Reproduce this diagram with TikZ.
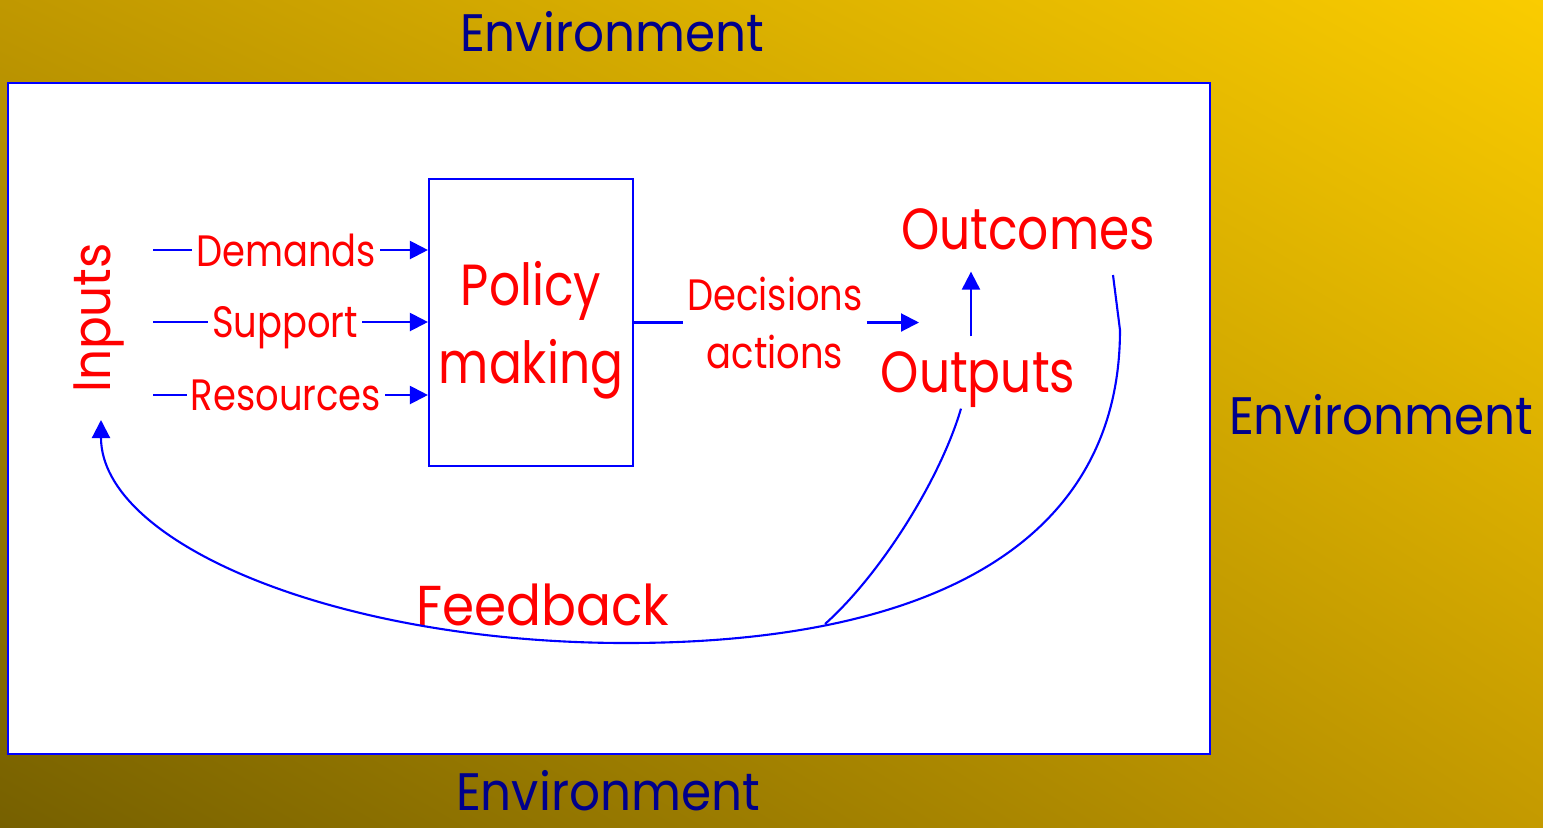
\documentclass[tikz,border=0pt]{standalone}
\usepackage{fontspec}
\setmainfont[FakeStretch=0.92]{Poppins}
\newfontfamily\redfont[FakeStretch=0.84]{Poppins}
\usetikzlibrary{arrows.meta, positioning, calc, shadings}
\definecolor{envnavy}{RGB}{0,0,139}
\definecolor{envTL}{RGB}{192,152,0}
\definecolor{envTR}{RGB}{250,204,0}
\definecolor{envBL}{RGB}{118,96,0}
\definecolor{envBR}{RGB}{196,154,0}
\definecolor{flowblue}{RGB}{0,0,255}
\definecolor{labelred}{RGB}{255,0,0}
\tikzset{
    frame/.style={draw=flowblue, line width=0.6pt, fill=white},
    procbox/.style={
        rectangle, draw=flowblue, line width=0.6pt, inner sep=0pt,
        minimum width=2.04cm, minimum height=2.87cm, align=center,
        text=labelred, font=\redfont\fontsize{16.5}{22}\selectfont
    },
    label/.style={text=labelred, inner sep=1pt, text depth=0pt,
        font=\redfont\fontsize{12.5}{16.5}\selectfont},
    biglabel/.style={text=labelred, inner sep=0.15cm, text depth=0pt,
        font=\redfont\fontsize{16.5}{22}\selectfont},
    envlabel/.style={text=envnavy, inner sep=0pt, text depth=0pt,
        font=\fontsize{15}{19}\selectfont},
    line/.style={draw=flowblue, line width=0.6pt},
    flow/.style={line, -{Triangle[length=1.8mm,width=1.8mm]}}
}

\begin{document}
\begin{tikzpicture}
\useasboundingbox (0,0) rectangle (15.43,8.27);

% Background and frame
\shade[upper left=envTL, upper right=envTR, lower left=envBL, lower right=envBR]
    (0,0) rectangle (15.43,8.27);
\draw[frame] (0.08,0.73) rectangle (12.10,7.44);

% Environment
\node[envlabel] (envtop) at (6.12,7.96) {Environment};
\node[envlabel] (envbottom) at (6.08,0.37) {Environment};
\node[envlabel] (envright) at (13.81,4.13) {Environment};

% Inputs
\node[text=labelred, rotate=90, inner sep=0pt, text depth=0pt,
      font=\fontsize{15}{19}\selectfont] (inputs) at (0.92,5.09) {Inputs};
\coordinate (instart) at (1.53,0);
\node[label] (demands) at (2.86,5.77) {Demands};
\node[label] (support) at (2.85,5.05) {Support};
\node[label] (resources) at (2.86,4.32) {Resources};

% Policy making
\node[procbox, text depth=0pt] (policy) at (5.31,5.045) {Policy\\making};

% Decisions and results
\node[label, align=center] (decisions) at (7.75,5.04) {Decisions\\actions};
\node[biglabel] (outcomes) at (10.28,5.975) {Outcomes};
\node[biglabel] (outputs) at (9.78,4.545) {Outputs};
\node[text=labelred, inner sep=0pt, text depth=0pt,
      font=\fontsize{16}{20}\selectfont] (feedback) at (5.43,2.22) {Feedback};
\coordinate (decend) at (9.19,0);

% Connections
\draw[line] (instart |- demands) -- (demands);
\draw[flow] (demands) -- (policy.west |- demands);
\draw[line] (instart |- support) -- (support);
\draw[flow] (support) -- (policy.west |- support);
\draw[line] (instart |- resources) -- (resources);
\draw[flow] (resources) -- (policy.west |- resources);
\draw[line] (policy.east) -- (policy.east -| decisions.west);
\draw[flow] (decisions.east |- policy.east) -- (decend |- policy.east);
\draw[flow] ([xshift=-0.7mm]outputs.north) -- ([xshift=-0.7mm,yshift=-0.6mm]outputs.north |- outcomes.south);

% Feedback loop
\coordinate (fbtop) at (11.13,5.52);
\coordinate (fbjoin) at (8.25,2.03);
\coordinate (fbend) at (1.01,4.07);
\draw[flow] (fbtop) -- (11.20,4.97) .. controls (11.20,2.94) and (9.47,1.84) .. (6.26,1.84)
    .. controls (3.36,1.84) and (1.01,2.84) .. (fbend);
\draw[line] ([xshift=-1.7mm]outputs.south) .. controls (9.40,3.47) and (8.80,2.52) .. (fbjoin);

\end{tikzpicture}
\end{document}
